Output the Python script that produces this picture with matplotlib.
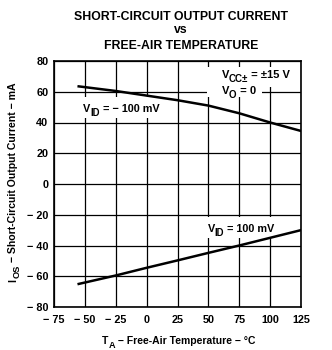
import matplotlib
matplotlib.use("Agg")
import matplotlib.pyplot as plt
from matplotlib.transforms import IdentityTransform
from matplotlib.patches import Rectangle

plt.rcParams['font.family'] = ['Liberation Sans', 'DejaVu Sans']
plt.rcParams['font.weight'] = 'bold'

# Data
temp = [-55, -25, 0, 25, 50, 75, 100, 125]
ios_neg_vid = [63.5, 60.5, 57.5, 54.5, 51, 46, 40, 34.5]        # VID = -100 mV
ios_pos_vid = [-65, -59.5, -54.5, -49.7, -44.8, -40, -35, -30]  # VID = 100 mV
xticks = [-75, -50, -25, 0, 25, 50, 75, 100, 125]
yticks = [-80, -60, -40, -20, 0, 20, 40, 60, 80]

W, H = 332, 350

def lab(v):
    return f"\u2212 {abs(v)}" if v < 0 else f"{v}"

fig = plt.figure(figsize=(W / 100, H / 100), dpi=100)
ax = fig.add_axes([54 / W, 1 - 307 / H, (301 - 54) / W, (307 - 61) / H])

ax.plot(temp, ios_neg_vid, color='black', lw=1.8, zorder=3)
ax.plot(temp, ios_pos_vid, color='black', lw=1.8, zorder=3)

ax.set_xlim(-75, 125)
ax.set_ylim(-80, 80)
ax.set_xticks(xticks)
ax.set_yticks(yticks)
ax.set_xticklabels([lab(v) for v in xticks], fontsize=7.8, fontweight='bold')
ax.set_yticklabels([lab(v) for v in yticks], fontsize=7.8, fontweight='bold')
ax.tick_params(length=0)
ax.tick_params(axis='y', pad=4)
ax.tick_params(axis='x', pad=6)
ax.grid(True, color='black', lw=0.9)
ax.set_axisbelow(True)
for s in ax.spines.values():
    s.set_linewidth(1.2)

renderer = fig.canvas.get_renderer()
ident = IdentityTransform()


def width_of(s, size):
    a = fig.text(0, 0, "|" + s + "|", fontsize=size, fontweight='bold', transform=ident)
    b = fig.text(0, 0, "||", fontsize=size, fontweight='bold', transform=ident)
    w = a.get_window_extent(renderer).width - b.get_window_extent(renderer).width
    a.remove()
    b.remove()
    return w


def rich(x, y, parts, size, rot=0, align='left', subscale=0.88, zorder=5):
    """x, y: pixels from the image's top-left; y is the baseline (for rot=90, x is baseline)."""
    sub = size * subscale
    shift = size * 0.3 * 100 / 72
    widths = [width_of(t, sub if s else size) for t, s in parts]
    total = sum(widths)
    off = -total / 2 if align == 'center' else 0
    for (t, s), w in zip(parts, widths):
        fs = sub if s else size
        if rot == 0:
            px, py = x + off, (H - y) - (shift if s else 0)
        else:
            px, py = x + (shift if s else 0), (H - y) + off
        fig.text(px, py, t, fontsize=fs, fontweight='bold', transform=ident,
                 rotation=rot, rotation_mode='anchor', ha='left', va='baseline',
                 zorder=zorder)
        off += w
    return total

# Title
rich(181, 19.5, [("SHORT-CIRCUIT OUTPUT CURRENT", False)], 8.8, align='center')
rich(181, 33.3, [("vs", False)], 8.8, align='center')
rich(181, 49.3, [("FREE-AIR TEMPERATURE", False)], 8.8, align='center')

# Axis labels
rich(179, 344.5, [("T", False), ("A", True), (" \u2212 Free-Air Temperature \u2212 °C", False)],
     7.5, align='center')
rich(16.5, 182, [("I", False), ("OS", True), (" \u2212 Short-Circuit Output Current \u2212 mA", False)],
     7.6, rot=90, align='center')

# White boxes behind annotations (above grid, below lines)
for (x0, y0, x1, y1) in [(207, 67, 297, 87), (207, 84, 262, 97),
                         (79, 97, 160, 118), (203, 217, 278, 238)]:
    ax.add_patch(Rectangle((x0, H - y1), x1 - x0, y1 - y0, transform=ident,
                           facecolor='white', edgecolor='none', zorder=2.5))

# Annotations
rich(221.7, 78.3, [("V", False), ("CC\u00b1", True), (" = \u00b115 V", False)], 8)
rich(221.7, 94.3, [("V", False), ("O", True), (" = 0", False)], 8)
rich(83, 112.5, [("V", False), ("ID", True), (" = \u2212 100 mV", False)], 7.8)
rich(207.5, 232.5, [("V", False), ("ID", True), (" = 100 mV", False)], 7.8)

fig.savefig("out.png", dpi=100)
